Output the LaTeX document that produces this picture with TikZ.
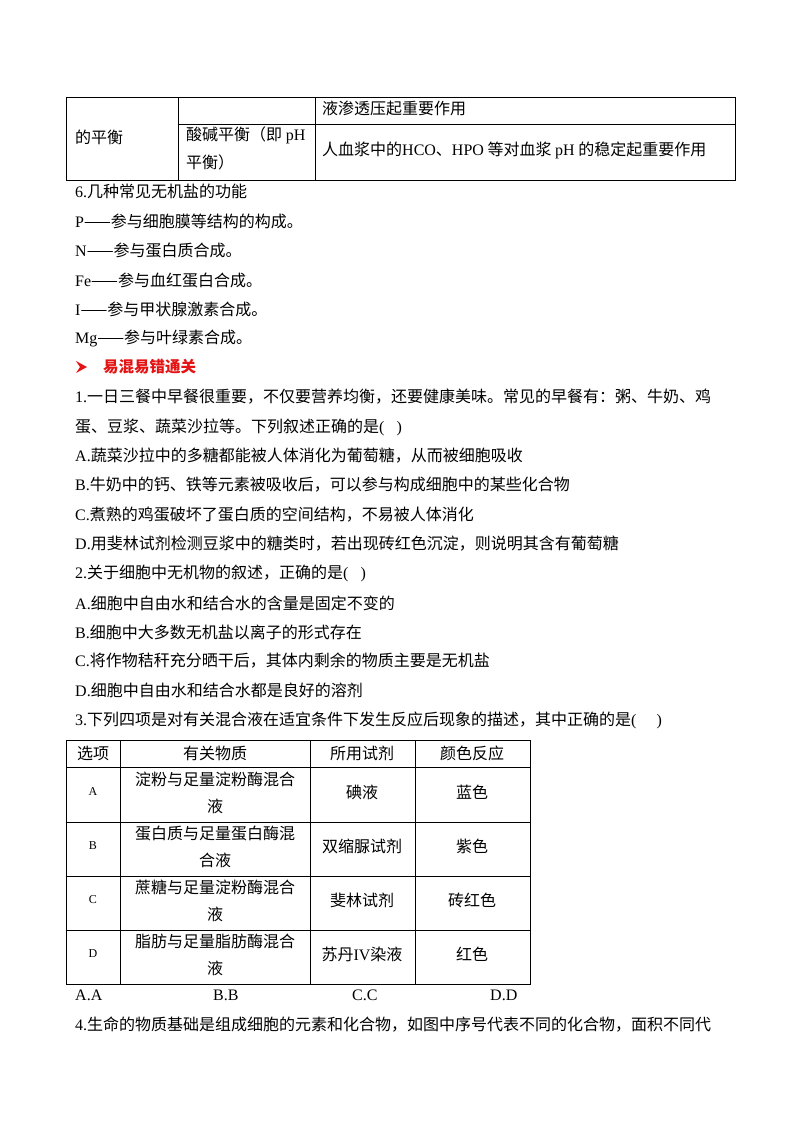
\documentclass[tikz,border=0pt]{standalone}
\usepackage{fontspec}
\setmainfont{Noto Sans CJK SC}
\newfontfamily\lat{Liberation Serif}
\newcommand{\La}[1]{{\lat #1}}
\definecolor{hred}{RGB}{228,20,20}
\begin{document}
\begin{tikzpicture}[x=1pt,y=-1pt,
  tx/.style={anchor=west,inner sep=0pt,font=\fontsize{16}{29}\selectfont},
  cc/.style={anchor=center,inner sep=0pt,font=\fontsize{16}{27}\selectfont,align=center},
  gl/.style={line width=0.7pt}]
\useasboundingbox[fill=white] (0,0) rectangle (800,1132);
% top table
\draw[gl] (66,97) rectangle (735,180);
\draw[gl] (178,124) -- (735,124);
\draw[gl] (178,97) -- (178,180);
\draw[gl] (315,97) -- (315,180);
\node[tx] (t1) at (322,108) {液渗透压起重要作用};
\node[tx] (t2) at (75,137) {的平衡};
\node[tx] (t3) at (186,135) {酸碱平衡（即 \La{pH}};
\node[tx] (t4) at (186,162) {平衡）};
\node[tx] (t5) at (322,150) {人血浆中的\La{HCO}、\La{HPO} 等对血浆 \La{pH} 的稳定起重要作用};
% section 6
\node[tx] (s6) at (75,191) {\La{6.}几种常见无机盐的功能};
\node[tx] (p) at (75,221) {\La{P}——参与细胞膜等结构的构成。};
\node[tx] (n) at (75,250) {\La{N}——参与蛋白质合成。};
\node[tx] (fe) at (75,280) {\La{Fe}——参与血红蛋白合成。};
\node[tx] (i) at (75,309) {\La{I}——参与甲状腺激素合成。};
\node[tx] (mg) at (75,338) {\La{Mg}——参与叶绿素合成。};
% heading
\fill[hred] (76,361) -- (87,367) -- (76,373) -- (80,367) -- cycle;
\node[tx,text=hred,font=\fontsize{15.5}{29}\selectfont\bfseries] (hd) at (103,367) {易混易错通关};
% Q1
\node[tx] (q1) at (75,397) {\La{1.}一日三餐中早餐很重要，不仅要营养均衡，还要健康美味。常见的早餐有：粥、牛奶、鸡};
\node[tx] (q1b) at (75,427) {蛋、豆浆、蔬菜沙拉等。下列叙述正确的是\La{(\ \ \ )}};
\node[tx] (q1a) at (75,456) {\La{A.}蔬菜沙拉中的多糖都能被人体消化为葡萄糖，从而被细胞吸收};
\node[tx] (q1bb) at (75,485) {\La{B.}牛奶中的钙、铁等元素被吸收后，可以参与构成细胞中的某些化合物};
\node[tx] (q1c) at (75,515) {\La{C.}煮熟的鸡蛋破坏了蛋白质的空间结构，不易被人体消化};
\node[tx] (q1d) at (75,544) {\La{D.}用斐林试剂检测豆浆中的糖类时，若出现砖红色沉淀，则说明其含有葡萄糖};
% Q2
\node[tx] (q2) at (75,573) {\La{2.}关于细胞中无机物的叙述，正确的是\La{(\ \ \ )}};
\node[tx] (q2a) at (75,603) {\La{A.}细胞中自由水和结合水的含量是固定不变的};
\node[tx] (q2b) at (75,632) {\La{B.}细胞中大多数无机盐以离子的形式存在};
\node[tx] (q2c) at (75,661) {\La{C.}将作物秸秆充分晒干后，其体内剩余的物质主要是无机盐};
\node[tx] (q2d) at (75,690) {\La{D.}细胞中自由水和结合水都是良好的溶剂};
% Q3
\node[tx] (q3) at (75,720) {\La{3.}下列四项是对有关混合液在适宜条件下发生反应后现象的描述，其中正确的是\La{(\ \ \ \ \ )}};
\draw[gl] (66,740) rectangle (530,984);
\foreach \yy in {767,822,876,930} \draw[gl] (66,\yy) -- (530,\yy);
\foreach \xx in {120,310,415} \draw[gl] (\xx,740) -- (\xx,984);
\node[cc] (h1) at (93,753) {选项};
\node[cc] (h2) at (215,753) {有关物质};
\node[cc] (h3) at (362,753) {所用试剂};
\node[cc] (h4) at (472,753) {颜色反应};
\node[cc,font=\lat\fontsize{12}{13}\selectfont] (ra) at (93,792) {A};
\node[cc] (ma) at (215,793) {淀粉与足量淀粉酶混合\\液};
\node[cc] (sa) at (362,792) {碘液};
\node[cc] (ca) at (472,792) {蓝色};
\node[cc,font=\lat\fontsize{12}{13}\selectfont] (rb) at (93,846) {B};
\node[cc] (mb) at (215,847) {蛋白质与足量蛋白酶混\\合液};
\node[cc] (sb) at (362,846) {双缩脲试剂};
\node[cc] (cb) at (472,846) {紫色};
\node[cc,font=\lat\fontsize{12}{13}\selectfont] (rc) at (93,900) {C};
\node[cc] (mc) at (215,901) {蔗糖与足量淀粉酶混合\\液};
\node[cc] (sc) at (362,900) {斐林试剂};
\node[cc] (cc1) at (472,900) {砖红色};
\node[cc,font=\lat\fontsize{12}{13}\selectfont] (rd) at (93,954) {D};
\node[cc] (md) at (215,955) {脂肪与足量脂肪酶混合\\液};
\node[cc] (sd) at (362,954) {苏丹\La{IV}染液};
\node[cc] (cd) at (472,954) {红色};
\node[tx] (oa) at (75,995) {\La{A.A}};
\node[tx] (ob) at (213,995) {\La{B.B}};
\node[tx] (oc) at (352,995) {\La{C.C}};
\node[tx] (od) at (490,995) {\La{D.D}};
% Q4
\node[tx] (q4) at (75,1025) {\La{4.}生命的物质基础是组成细胞的元素和化合物，如图中序号代表不同的化合物，面积不同代};
\end{tikzpicture}
\end{document}
